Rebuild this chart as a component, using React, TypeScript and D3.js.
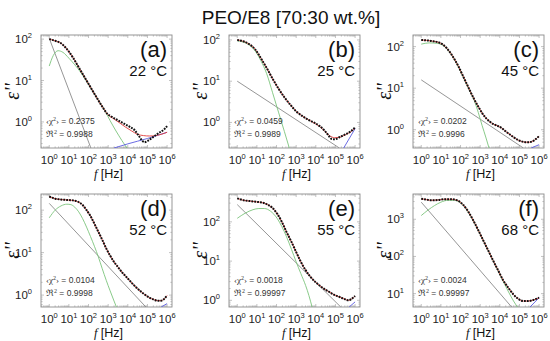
import React from "react";
import * as d3 from "d3";

// every pair is [log10 f, log10 eps'']
type Pt = [number, number];

const panelTags = ["(a)", "(b)", "(c)", "(d)", "(e)", "(f)"];
const temperatures = ["22 °C", "25 °C", "45 °C", "52 °C", "55 °C", "68 °C"];
const chiValues = ["0.2375", "0.0459", "0.0202", "0.0104", "0.0018", "0.0024"];
const r2Values = ["0.9988", "0.9989", "0.9996", "0.9998", "0.99997", "0.99997"];
const yLogRanges: [number, number][] = [
  [-0.63, 2.1], [-0.62, 2.12], [-0.44, 2.28],
  [-0.28, 2.38], [-0.17, 2.71], [0.64, 3.68],
];
const yTickExps = [[0, 1, 2], [0, 1, 2], [0, 1, 2], [0, 1, 2], [0, 1, 2], [1, 2, 3]];
const xTickExps = [0, 1, 2, 3, 4, 5, 6];

// measured points (black)
const measuredA: Pt[] = [
  [0, 2.0], [0.3, 1.96], [0.6, 1.9], [0.9, 1.76], [1.2, 1.56], [1.5, 1.32], [1.8, 1.08],
  [2.1, 0.84], [2.4, 0.6], [2.7, 0.37], [2.95, 0.2], [3.2, 0.12], [3.5, 0.04], [3.8, -0.04],
  [4.1, -0.12], [4.35, -0.2], [4.55, -0.33], [4.75, -0.46], [4.85, -0.49], [5.0, -0.46],
  [5.3, -0.36], [5.6, -0.26], [5.85, -0.18], [6.0, -0.1],
];
const measuredB: Pt[] = [
  [0, 2.0], [0.3, 1.97], [0.6, 1.9], [0.9, 1.78], [1.2, 1.56], [1.5, 1.32], [1.8, 1.06],
  [2.1, 0.82], [2.4, 0.61], [2.7, 0.43], [3.0, 0.27], [3.3, 0.16], [3.6, 0.07], [3.9, 0.0],
  [4.2, -0.09], [4.45, -0.2], [4.65, -0.32], [4.8, -0.4], [4.95, -0.41], [5.2, -0.36],
  [5.5, -0.29], [5.8, -0.21], [6.0, -0.12],
];
const measuredC: Pt[] = [
  [0, 2.16], [0.3, 2.15], [0.6, 2.13], [0.9, 2.1], [1.1, 2.05], [1.3, 1.96], [1.5, 1.84],
  [1.7, 1.69], [1.9, 1.52], [2.1, 1.32], [2.3, 1.12], [2.5, 0.92], [2.7, 0.73], [2.9, 0.56],
  [3.1, 0.4], [3.3, 0.28], [3.5, 0.19], [3.7, 0.13], [3.9, 0.09], [4.1, 0.04], [4.3, -0.04],
  [4.5, -0.11], [4.7, -0.18], [4.9, -0.24], [5.1, -0.28], [5.3, -0.3], [5.5, -0.3],
  [5.7, -0.27], [5.85, -0.22], [6.0, -0.15],
];
const measuredD: Pt[] = [
  [0, 2.32], [0.3, 2.27], [0.6, 2.25], [0.9, 2.24], [1.2, 2.23], [1.45, 2.2], [1.7, 2.12],
  [1.9, 2.0], [2.1, 1.86], [2.3, 1.68], [2.5, 1.49], [2.7, 1.3], [2.9, 1.1], [3.1, 0.93],
  [3.3, 0.78], [3.5, 0.66], [3.7, 0.54], [3.9, 0.44], [4.1, 0.34], [4.3, 0.24], [4.5, 0.15],
  [4.7, 0.07], [4.9, 0.0], [5.1, -0.06], [5.3, -0.1], [5.5, -0.13], [5.7, -0.13],
  [5.85, -0.09], [6.0, -0.01],
];
const measuredE: Pt[] = [
  [0, 2.6], [0.32, 2.55], [0.65, 2.53], [0.97, 2.51], [1.3, 2.49], [1.54, 2.44], [1.78, 2.36],
  [2.03, 2.21], [2.27, 2.0], [2.51, 1.74], [2.76, 1.49], [3.0, 1.23], [3.24, 0.98],
  [3.48, 0.77], [3.73, 0.6], [3.97, 0.47], [4.21, 0.37], [4.46, 0.28], [4.7, 0.21],
  [4.94, 0.14], [5.19, 0.09], [5.43, 0.04], [5.67, 0.0], [5.83, 0.04], [6.0, 0.11],
];
const measuredF: Pt[] = [
  [0, 3.55], [0.25, 3.53], [0.51, 3.51], [0.85, 3.52], [1.19, 3.54], [1.53, 3.54],
  [1.87, 3.5], [2.13, 3.39], [2.39, 3.21], [2.64, 2.98], [2.9, 2.71], [3.15, 2.44],
  [3.41, 2.16], [3.66, 1.89], [3.92, 1.62], [4.17, 1.36], [4.43, 1.16], [4.69, 0.98],
  [4.94, 0.86], [5.2, 0.8], [5.45, 0.8], [5.71, 0.83], [6.0, 0.89],
];

// total fit (red), only where it leaves the points
const fitA: Pt[] = [
  [0, 2.0], [0.3, 1.96], [0.6, 1.9], [0.9, 1.76], [1.2, 1.56], [1.5, 1.32], [1.8, 1.08],
  [2.1, 0.84], [2.4, 0.6], [2.7, 0.37], [3.0, 0.17], [3.3, 0.07], [3.6, -0.03], [3.9, -0.13],
  [4.2, -0.22], [4.5, -0.3], [4.8, -0.33], [5.1, -0.34], [5.4, -0.33], [5.7, -0.3], [6.0, -0.25],
];
const fitB: Pt[] = [
  [0, 2.0], [0.3, 1.97], [0.6, 1.9], [0.9, 1.78], [1.2, 1.56], [1.5, 1.32], [1.8, 1.06],
  [2.1, 0.82], [2.4, 0.61], [2.7, 0.43], [3.0, 0.27], [3.3, 0.16], [3.6, 0.07], [3.9, -0.01],
  [4.2, -0.1], [4.45, -0.21], [4.7, -0.32], [4.95, -0.37], [5.2, -0.36], [5.5, -0.3],
  [5.8, -0.22], [6.0, -0.14],
];

// relaxation term (green)
const peakA: Pt[] = [
  [0, 1.35], [0.2, 1.6], [0.45, 1.72], [0.7, 1.68], [1.0, 1.54], [1.3, 1.38], [1.6, 1.2],
  [1.9, 0.98], [2.2, 0.75], [2.5, 0.52], [2.8, 0.3], [3.1, 0.03], [3.4, -0.22], [3.7, -0.45],
  [3.95, -0.63],
];
const peakB: Pt[] = [
  [0, 1.98], [0.3, 1.95], [0.6, 1.88], [0.9, 1.74], [1.2, 1.5], [1.5, 1.18], [1.8, 0.72],
  [2.1, 0.25], [2.4, -0.22], [2.65, -0.62],
];
const peakC: Pt[] = [
  [0, 2.06], [0.4, 2.09], [0.8, 2.08], [1.1, 2.03], [1.3, 1.95], [1.5, 1.83], [1.7, 1.68],
  [1.9, 1.5], [2.1, 1.3], [2.3, 1.1], [2.5, 0.9], [2.7, 0.7], [2.9, 0.42], [3.1, 0.1],
  [3.3, -0.2], [3.45, -0.44],
];
const peakD: Pt[] = [
  [0, 1.82], [0.3, 2.0], [0.6, 2.1], [0.9, 2.14], [1.1, 2.13], [1.3, 2.07], [1.5, 1.96],
  [1.7, 1.8], [1.9, 1.6], [2.1, 1.38], [2.3, 1.15], [2.5, 0.9], [2.7, 0.62], [2.9, 0.35],
  [3.1, 0.1], [3.3, -0.14], [3.42, -0.28],
];
const peakE: Pt[] = [
  [0, 2.09], [0.4, 2.22], [0.8, 2.31], [1.1, 2.34], [1.38, 2.34], [1.7, 2.27], [2.03, 2.09],
  [2.27, 1.88], [2.51, 1.62], [2.76, 1.3], [3.0, 0.98], [3.24, 0.68], [3.48, 0.38],
  [3.65, 0.12], [3.81, -0.17],
];
const peakF: Pt[] = [
  [0, 3.1], [0.35, 3.25], [0.68, 3.37], [1.0, 3.46], [1.36, 3.51], [1.7, 3.51], [1.95, 3.46],
  [2.2, 3.34], [2.45, 3.14], [2.7, 2.91], [2.95, 2.65], [3.2, 2.38], [3.45, 2.11],
  [3.7, 1.84], [3.95, 1.57], [4.2, 1.3], [4.45, 1.04], [4.7, 0.8], [4.95, 0.6],
];

// conductivity term (grey)
const condA: Pt[] = [[0, 2.02], [2.12, -0.63]];
const condB: Pt[] = [[0, 1.0], [5.2, -0.62]];
const condC: Pt[] = [[0, 1.2], [5.2, -0.44]];
const condD: Pt[] = [[0, 2.16], [4.92, -0.28]];
const condE: Pt[] = [[0, 2.44], [5.27, -0.17]];
const condF: Pt[] = [[0, 3.46], [4.6, 0.64]];

// high frequency term (blue)
const hfA: Pt[] = [[3.3, -0.63], [4, -0.53], [5, -0.4], [6, -0.25]];
const hfB: Pt[] = [[5.42, -0.62], [6.0, -0.15]];
const hfC: Pt[] = [[5.6, -0.44], [6.0, -0.36]];
const hfD: Pt[] = [[5.7, -0.28], [6.0, -0.2]];
const hfE: Pt[] = [[5.7, -0.17], [6.0, -0.04]];
const hfF: Pt[] = [[5.54, 0.64], [6.0, 0.89]];

const measured = [measuredA, measuredB, measuredC, measuredD, measuredE, measuredF];
const fits = [fitA, fitB, measuredC, measuredD, measuredE, measuredF];
const peaks = [peakA, peakB, peakC, peakD, peakE, peakF];
const conds = [condA, condB, condC, condD, condE, condF];
const hfs = [hfA, hfB, hfC, hfD, hfE, hfF];

const colX = [41, 229, 413];
const rowY = [35, 194];
const pw = 131;
const ph = 113;
const sans = "'Liberation Sans', Arial, sans-serif";
const serif = "'Liberation Serif', 'Times New Roman', serif";

const Panel = ({ i }: { i: number }) => {
  const x0 = colX[i % 3];
  const y0 = rowY[Math.floor(i / 3)];
  const [lo, hi] = yLogRanges[i];
  const xs = d3.scaleLog().domain([10 ** -0.42, 10 ** 6.25]).range([x0, x0 + pw]);
  const ys = d3.scaleLog().domain([10 ** lo, 10 ** hi]).range([y0 + ph, y0]);
  const line = d3
    .line<Pt>()
    .x((d) => xs(10 ** d[0]))
    .y((d) => ys(10 ** d[1]))
    .curve(d3.curveMonotoneX);
  const clipId = `clip-${i}`;

  // minor ticks inside the frame
  const xMinor: number[] = [];
  for (let e = -1; e <= 6; e++) for (let m = 1; m < 10; m++) {
    const v = m * 10 ** e;
    if (v >= xs.domain()[0] && v <= xs.domain()[1]) xMinor.push(v);
  }
  const yMinor: number[] = [];
  for (let e = -1; e <= 4; e++) for (let m = 1; m < 10; m++) {
    const v = m * 10 ** e;
    if (v >= ys.domain()[0] && v <= ys.domain()[1]) yMinor.push(v);
  }
  const tickCol = "#9a9a9a";

  return (
    <g>
      <defs>
        <clipPath id={clipId}>
          <rect x={x0} y={y0} width={pw} height={ph} />
        </clipPath>
      </defs>
      <rect x={x0} y={y0} width={pw} height={ph} fill="white" stroke="#8c8c8c" strokeWidth={0.9} />
      {xMinor.map((v) => {
        const major = Math.abs(Math.log10(v) - Math.round(Math.log10(v))) < 1e-9;
        const len = major ? 3 : 1.6;
        return (
          <g key={"xm" + v} stroke={tickCol} strokeWidth={0.6}>
            <line x1={xs(v)} x2={xs(v)} y1={y0 + ph} y2={y0 + ph - len} />
            <line x1={xs(v)} x2={xs(v)} y1={y0} y2={y0 + len} />
          </g>
        );
      })}
      {yMinor.map((v) => {
        const major = Math.abs(Math.log10(v) - Math.round(Math.log10(v))) < 1e-9;
        const len = major ? 3 : 1.6;
        return (
          <g key={"ym" + v} stroke={tickCol} strokeWidth={0.6}>
            <line x1={x0} x2={x0 + len} y1={ys(v)} y2={ys(v)} />
            <line x1={x0 + pw} x2={x0 + pw - len} y1={ys(v)} y2={ys(v)} />
          </g>
        );
      })}
      <g clipPath={`url(#${clipId})`} fill="none">
        <path d={line(conds[i]) || ""} stroke="#8a8a8a" strokeWidth={0.9} />
        <path d={line(peaks[i]) || ""} stroke="#7cc47c" strokeWidth={0.9} />
        <path d={line(hfs[i]) || ""} stroke="#5a5ae0" strokeWidth={0.9} />
        <path d={line(fits[i]) || ""} stroke="#e03a3a" strokeWidth={0.9} />
        <path d={line(measured[i]) || ""} stroke="#111" strokeWidth={2} strokeDasharray="1.8 1.1" />
      </g>
      {xTickExps.map((e) => (
        <text key={"xt" + e} x={xs(10 ** e)} y={y0 + ph + 16} textAnchor="middle" fontFamily={sans} fontSize={11.5} fill="#222">
          10<tspan dy={-5} fontSize={7.5}>{e}</tspan>
        </text>
      ))}
      {yTickExps[i].map((e) => (
        <text key={"yt" + e} x={x0 - 9} y={ys(10 ** e) + 4} textAnchor="end" fontFamily={sans} fontSize={11.5} fill="#222">
          10<tspan dy={-5} fontSize={7.5}>{e}</tspan>
        </text>
      ))}
      <text x={x0 + pw - 5} y={y0 + 22} textAnchor="end" fontFamily={sans} fontSize={22} fill="#111">
        {panelTags[i]}
      </text>
      <text x={x0 + pw - 5} y={y0 + 41} textAnchor="end" fontFamily={sans} fontSize={15} fill="#111">
        {temperatures[i]}
      </text>
      <text x={x0 + 5} y={y0 + 89} fontFamily={serif} fontSize={9} fill="#333">
        ‹χ<tspan dy={-3} fontSize={6}>2</tspan><tspan dy={3}>›</tspan>
        <tspan fontFamily={sans} fontSize={8.5}> = {chiValues[i]}</tspan>
      </text>
      <text x={x0 + 5} y={y0 + 102} fontFamily={serif} fontSize={9} fill="#333">
        ℜ<tspan dy={-3} fontSize={6}>2</tspan>
        <tspan dy={3} fontFamily={sans} fontSize={8.5}> = {r2Values[i]}</tspan>
      </text>
      <text
        transform={`translate(${x0 - 22},${y0 + ph / 2}) rotate(-90)`}
        textAnchor="middle"
        fontFamily={serif}
        fontStyle="italic"
        fontSize={20}
        fill="#111"
      >
        ε''
      </text>
      <text x={x0 + pw / 2 + 2} y={y0 + ph + 30} textAnchor="middle" fontFamily={sans} fontSize={12.5} fill="#111">
        <tspan fontFamily={serif} fontStyle="italic">f</tspan> [Hz]
      </text>
    </g>
  );
};

export default function App() {
  return (
    <svg width={550} height={341} style={{ position: "absolute", left: 0, top: 0, background: "white" }}>
      <rect width={550} height={341} fill="white" />
      <text x={291} y={24} textAnchor="middle" fontFamily={sans} fontSize={19} fill="#111">
        PEO/E8 [70:30 wt.%]
      </text>
      {[0, 1, 2, 3, 4, 5].map((i) => (
        <Panel key={i} i={i} />
      ))}
    </svg>
  );
}
